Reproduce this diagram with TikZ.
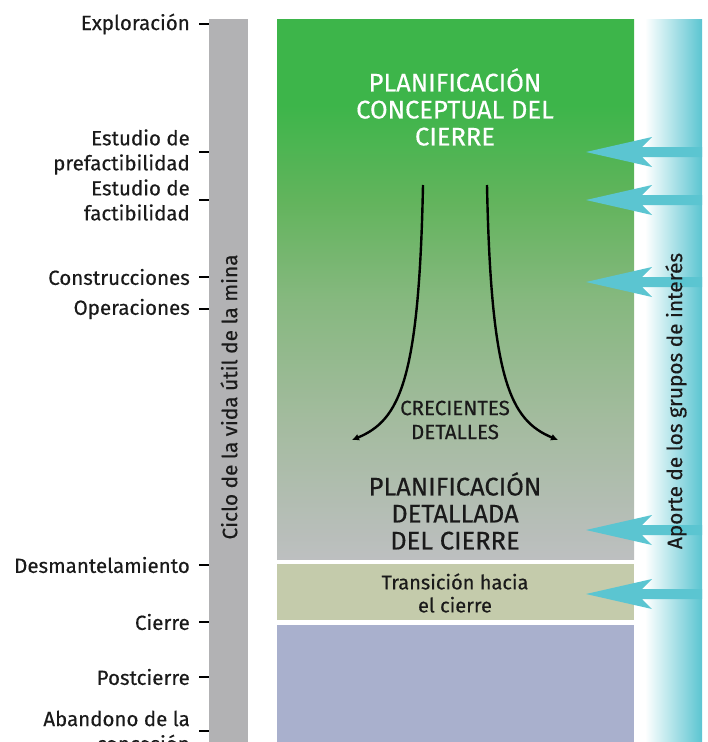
\documentclass[tikz,border=0pt]{standalone}
\usepackage{fontspec}
\setmainfont{Fira Sans}[FakeBold=0.4]
\usetikzlibrary{arrows.meta}

\definecolor{barragris}{HTML}{B2B2B4}
\definecolor{verdetop}{HTML}{3DB54A}
\definecolor{verdedos}{HTML}{63B45D}
\definecolor{verdetres}{HTML}{86B87F}
\definecolor{verdecuatro}{HTML}{A3BB9E}
\definecolor{grisfinal}{HTML}{BDBFC0}
\definecolor{transcol}{HTML}{C4CBAB}
\definecolor{postcol}{HTML}{A9B0CD}
\definecolor{aportecol}{HTML}{5BC5D1}
\definecolor{textooscuro}{HTML}{1A1A1A}

\pgfdeclareverticalshading{verdegris}{100bp}{color(0bp)=(grisfinal); color(25bp)=(grisfinal);
  color(38bp)=(verdecuatro); color(49bp)=(verdetres); color(58bp)=(verdedos);
  color(67bp)=(verdetop); color(100bp)=(verdetop)}

\begin{document}
\begin{tikzpicture}[x=1pt,y=-1pt]
    \tikzstyle{etapa}=[anchor=east, align=right, inner sep=0pt, font=\fontsize{20.5}{25}\selectfont, text=textooscuro]
    \tikzstyle{marca}=[line width=2.4pt, black]
    \tikzstyle{titulo}=[align=center, inner sep=0pt, font=\fontsize{25.5}{27}\selectfont]
    \tikzstyle{vertical}=[rotate=90, inner sep=0pt, font=\fontsize{20.8}{24}\selectfont, text=textooscuro]
    \tikzstyle{flecha}=[line width=2.4pt, -{Latex[length=7pt,width=7pt]}]
    \useasboundingbox (0,0) rectangle (708,742);

    \fill[barragris] (209,19) rectangle (248,742);
    \shade[shading=verdegris] (277,19) rectangle (634,559);
    \fill[transcol] (277,564) rectangle (634,620);
    \fill[postcol] (277,625) rectangle (634,742);
    \shade[left color=white, right color=aportecol] (645,19) rectangle (702,742);

    \foreach \ay in {152,200,282,530,594}
        \fill[aportecol] (586,\ay) -- (652,\ay-15) -- (642,\ay-5) -- (702,\ay-5)
            -- (702,\ay+5) -- (642,\ay+5) -- (652,\ay+15) -- cycle;

    \node[etapa] (explor) at (190,24) {Exploración};
    \node[etapa] (prefact) at (190,152) {Estudio de\\prefactibilidad};
    \node[etapa] (fact) at (190,200) {Estudio de\\factibilidad};
    \node[etapa] (constr) at (190,277) {Construcciones};
    \node[etapa] (oper) at (190,309) {Operaciones};
    \node[etapa] (desm) at (190,565) {Desmantelamiento};
    \node[etapa] (cierre) at (190,622) {Cierre};
    \node[etapa] (post) at (190,677) {Postcierre};
    \node[etapa] (aband) at (190,731) {Abandono de la\\concesión};
    \foreach \n in {explor,prefact,fact,constr,oper,desm,cierre,post,aband}
        \draw[marca] (\n.east) ++(9,0) -- ++(10,0);

    \node[vertical] (ciclo) at (229,397) {Ciclo de la vida útil de la mina};
    \node[vertical] (aporte) at (676,401) {Aporte de los grupos de interés};

    \node[titulo, text=white] (conceptual) at (455,107) {PLANIFICACIÓN\\CONCEPTUAL DEL\\CIERRE};
    \node[titulo, text=textooscuro] (detallada) at (455,511) {PLANIFICACIÓN\\DETALLADA\\DEL CIERRE};
    \node[align=center, inner sep=0pt, text=textooscuro, font=\fontsize{20.5}{24}\selectfont] (crecientes) at (455,420) {CRECIENTES\\DETALLES};
    \node[align=center, inner sep=0pt, text=textooscuro, font=\fontsize{20}{23}\selectfont] (transicion) at (455,593) {Transición hacia\\el cierre};

    \coordinate (izqa) at (423,185);
    \coordinate (izqb) at (352,440);
    \coordinate (dera) at (487,185);
    \coordinate (derb) at (558,440);
    \draw[flecha] (izqa) .. controls (419,380) and (400,420) .. (izqb);
    \draw[flecha] (dera) .. controls (491,380) and (510,420) .. (derb);
\end{tikzpicture}
\end{document}
